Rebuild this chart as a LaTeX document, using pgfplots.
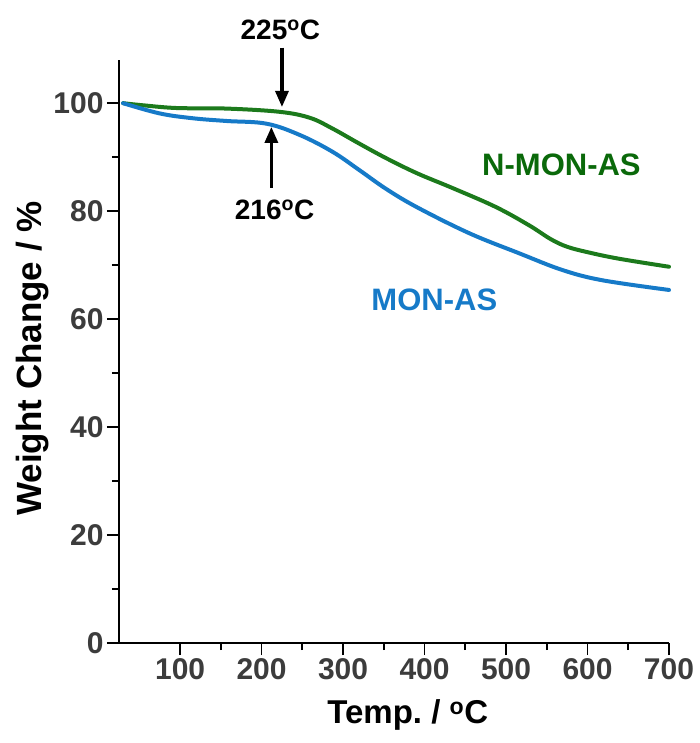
\documentclass[border=0pt]{standalone}
\usepackage{pgfplots}
\pgfplotsset{compat=1.18}
\usepackage{fontspec}
\setmainfont{Liberation Sans}
\usetikzlibrary{arrows.meta}

\definecolor{nmon}{RGB}{28,122,28}
\definecolor{nmontxt}{RGB}{10,105,10}
\definecolor{mon}{RGB}{22,122,200}
\definecolor{tickgray}{RGB}{60,60,60}

\begin{document}
\begin{tikzpicture}
\useasboundingbox (-119pt,-100pt) rectangle (581pt,643pt);
\begin{axis}[
    at={(0,0)}, anchor=south west,
    scale only axis,
    width=550pt, height=583pt,
    xmin=25, xmax=700, ymin=0, ymax=108,
    axis lines*=left,
    axis line style={line width=1.8pt},
    xtick={100,200,...,700},
    ytick={0,20,...,100},
    minor x tick num=1,
    minor y tick num=1,
    tick align=outside,
    tick style={line width=1.8pt, black},
    major tick length=12pt,
    minor tick length=7pt,
    /pgf/number format/assume math mode=true,
    ticklabel style={font=\fontsize{30}{34}\selectfont\bfseries, text=tickgray},
    xlabel={Temp.\ / \textsuperscript{o}C},
    ylabel={Weight Change / \%},
    xlabel style={font=\fontsize{33}{36}\selectfont\bfseries,
        at={(axis description cs:0.525,-0.123)}, anchor=center},
    ylabel style={font=\fontsize{35}{38}\selectfont\bfseries,
        at={(axis description cs:-0.158,0.488)}, anchor=center},
    clip=false,
]

% N-MON-AS
\addplot[nmon, line width=4pt, smooth, tension=0.6, line cap=round] coordinates {
    (30,100) (55,99.6) (96,99.1) (157,99.0) (222,98.4) (259,97.3)
    (287,95.3) (320,92.5) (353,89.8) (391,87.0) (434,84.3) (487,80.8)
    (528,77.4) (555,74.8) (575,73.4) (600,72.4) (638,71.2) (700,69.7)
};

% MON-AS
\addplot[mon, line width=4pt, smooth, tension=0.6, line cap=round] coordinates {
    (30,100) (75,98.1) (116,97.2) (157,96.7) (206,96.2) (247,94.1)
    (287,91.0) (320,87.6) (353,84.1) (391,80.7) (455,75.9) (516,72.2)
    (569,69.1) (618,67.2) (700,65.4)
};

\node[text=nmontxt, font=\fontsize{31}{34}\selectfont\bfseries] at (axis cs:568,88.5) {N-MON-AS};
\node[text=mon, font=\fontsize{31}{34}\selectfont\bfseries] at (axis cs:412,63.5) {MON-AS};

% onset temperatures
\draw[line width=3.2pt, -{Triangle[length=16pt,width=13pt]}] (axis cs:225,110.3) -- (axis cs:225,99.3);
\node[font=\fontsize{28}{30}\selectfont\bfseries] at (axis cs:223,113.5) {225\textsuperscript{o}C};
\draw[line width=3.2pt, -{Triangle[length=16pt,width=13pt]}] (axis cs:212,84.3) -- (axis cs:212,95.6);
\node[font=\fontsize{28}{30}\selectfont\bfseries] at (axis cs:216,80.3) {216\textsuperscript{o}C};

\end{axis}
\end{tikzpicture}
\end{document}
